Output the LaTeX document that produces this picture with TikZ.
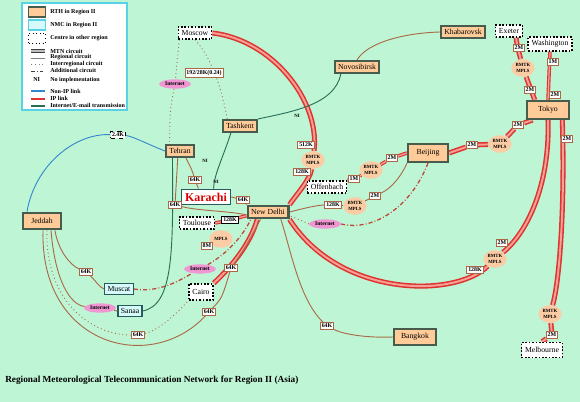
\documentclass[tikz,border=0pt]{standalone}
\usepackage{fontspec}
\setmainfont{Liberation Serif}
\usepackage{xcolor}
\definecolor{bgmint}{RGB}{190,245,213}
\definecolor{rthfill}{RGB}{255,204,153}
\definecolor{rthline}{RGB}{72,92,78}
\definecolor{nmcfill}{RGB}{214,250,250}
\definecolor{nmcline}{RGB}{40,90,90}
\definecolor{regbrown}{RGB}{170,105,70}
\definecolor{mtnred}{RGB}{222,52,48}
\definecolor{mtnpink}{RGB}{246,160,150}
\definecolor{addred}{RGB}{190,70,50}
\definecolor{netgreen}{RGB}{40,110,85}
\definecolor{nonipblue}{RGB}{50,135,205}
\definecolor{netpink}{RGB}{240,150,210}
\definecolor{cloudfill}{RGB}{252,205,165}
\definecolor{legline}{RGB}{90,210,230}
\usetikzlibrary{arrows.meta,positioning,shapes.geometric,calc,backgrounds}
\tikzset{
  rthbox/.style={draw=rthline, line width=1.4pt, fill=rthfill, inner sep=2.4pt,
    font=\fontsize{5.5}{6}\selectfont},
  nmcbox/.style={draw=nmcline, line width=0.8pt, fill=nmcfill, inner sep=2pt,
    font=\fontsize{5.5}{6}\selectfont},
  otherbox/.style={draw=black, line width=1.1pt, dash pattern=on 1.2pt off 1.2pt,
    fill=white, inner sep=2.4pt, font=\fontsize{5.5}{6}\selectfont},
  speed/.style={draw=regbrown, line width=0.6pt, fill=white, inner sep=1pt,
    font=\fontsize{4.2}{4.5}\selectfont\bfseries},
  cloudnode/.style={ellipse, fill=cloudfill, inner sep=0pt, align=center,
    minimum width=0.58cm, minimum height=0.44cm,
    font=\fontsize{3.4}{3.8}\selectfont\bfseries},
  netnode/.style={ellipse, fill=netpink, inner sep=1pt,
    font=\fontsize{4}{4.4}\selectfont\bfseries},
  nilabel/.style={font=\fontsize{3.4}{3.8}\selectfont\bfseries, inner sep=0.5pt},
  legtext/.style={anchor=west, inner sep=0pt, font=\fontsize{4.3}{4.6}\selectfont\bfseries},
  mtnline/.style={draw=mtnred, line width=1.1pt, double=mtnpink, double distance=1.4pt},
  ipline/.style={draw=mtnred, line width=0.8pt, double=mtnpink, double distance=0.9pt},
  regline/.style={draw=regbrown, line width=0.65pt},
  interline/.style={draw=regbrown, line width=0.65pt, dotted},
  addline/.style={draw=addred, line width=0.9pt, dash pattern=on 3pt off 1.5pt on 0.6pt off 1.5pt},
  netline/.style={draw=netgreen, line width=0.65pt},
  nonipline/.style={draw=nonipblue, line width=0.65pt},
}

\begin{document}
\begin{tikzpicture}[x=0.025cm, y=-0.025cm]
  \useasboundingbox (0,0) rectangle (580,402);

  % Legend
  \draw[fill=white, draw=legline, line width=1.2pt] (22,3) rectangle (127,110);
  \node[rthbox, line width=0.8pt, minimum width=0.42cm, minimum height=0.25cm] (kyrth) at (37,12) {};
  \node[nmcbox, draw=legline, minimum width=0.42cm, minimum height=0.25cm] (kynmc) at (37,25) {};
  \node[otherbox, line width=0.5pt, dotted, minimum width=0.42cm, minimum height=0.25cm] (kyoth) at (37,38) {};
  \draw[draw=darkgray, line width=0.7pt, double=lightgray, double distance=0.8pt] (31,51) -- (45,51);
  \draw[gray, line width=0.7pt] (31,58) -- (45,58);
  \draw[gray, line width=0.7pt, dotted] (31,64) -- (45,64);
  \draw[darkgray, line width=0.7pt, dash pattern=on 2.5pt off 1.5pt on 0.6pt off 1.5pt] (31,71) -- (45,71);
  \draw[nonipblue, line width=0.9pt] (31,91) -- (45,91);
  \draw[mtnred, line width=0.9pt] (31,99) -- (45,99);
  \draw[netgreen, line width=0.9pt] (31,106) -- (45,106);
  \node[legtext] (tyrth) at (50,12) {RTH in Region II};
  \node[legtext] (tynmc) at (50,25) {NMC in Region II};
  \node[legtext] (tyoth) at (50,38) {Centre in other region};
  \node[legtext] (tymtn) at (50,51) {MTN circuit};
  \node[legtext] (tyreg) at (50,57.5) {Regional circuit};
  \node[legtext] (tyint) at (50,64) {Interregional circuit};
  \node[legtext] (tyadd) at (50,70.5) {Additional circuit};
  \node[legtext] (tyni) at (33,80) {NI};
  \node[legtext] (tynoi) at (50,80) {No implementation};
  \node[legtext] (tynon) at (50,91) {Non-IP link};
  \node[legtext] (tyip) at (50,98.5) {IP link};
  \node[legtext] (tynet) at (50,105.5) {Internet/E-mail transmission};

  % Centres
  \node[otherbox] (moscow) at (195,33) {Moscow};
  \node[rthbox] (novosibirsk) at (357,67) {Novosibirsk};
  \node[rthbox] (khabarovsk) at (463,32) {Khabarovsk};
  \node[otherbox] (exeter) at (509,31) {Exeter};
  \node[otherbox] (washington) at (550,44) {Washington};
  \node[rthbox, minimum width=1.05cm, minimum height=0.45cm] (tokyo) at (548,110) {Tokyo};
  \node[rthbox] (tashkent) at (240,126) {Tashkent};
  \node[rthbox] (tehran) at (180,151) {Tehran};
  \node[draw=nmcline, line width=0.9pt, fill=white, text=red!85!black, inner sep=2.6pt,
    font=\fontsize{8.5}{9}\selectfont\bfseries] (karachi) at (206,197) {Karachi};
  \node[rthbox, line width=1.8pt] (newdelhi) at (268,212) {New Delhi};
  \node[rthbox, minimum width=1cm, minimum height=0.45cm] (beijing) at (428,153) {Beijing};
  \node[otherbox] (offenbach) at (327,187) {Offenbach};
  \node[otherbox] (toulouse) at (197,223) {Toulouse};
  \node[rthbox, minimum width=0.95cm, minimum height=0.42cm] (jeddah) at (42,221) {Jeddah};
  \node[nmcbox] (muscat) at (119,289) {Muscat};
  \node[nmcbox] (sanaa) at (130,311) {Sanaa};
  \node[otherbox, minimum height=0.4cm] (cairo) at (201,292) {Cairo};
  \node[rthbox, minimum width=1.05cm, minimum height=0.42cm] (bangkok) at (415,337) {Bangkok};
  \node[otherbox, minimum height=0.38cm] (melbourne) at (542,350) {Melbourne};

  % Link labels
  \node[speed] (lmos) at (204,73) {192/28K(0.24)};
  \node[netnode] (inetmos) at (175,84) {Internet};
  \node[speed, draw=black, dashed] (lteh) at (118,135) {2.4K};
  \node[nilabel] (nitas) at (297,116) {NI};
  \node[nilabel] (niteh) at (205,161) {NI};
  \node[nilabel] (nikar) at (216,182) {NI};
  \node[speed] (lteka) at (195,180) {64K};
  \node[speed] (ltend) at (175,205) {64K};
  \node[speed] (lkand) at (243,200) {64K};
  \node[speed, draw=black] (ltou) at (230,220) {128K};
  \node[cloudnode] (mpltou) at (221,239) {MPLS};
  \node[speed] (lcai) at (207,246) {8M};
  \node[speed] (lmosa) at (306,145) {512K};
  \node[cloudnode] (mplmos) at (313,160) {BMTK\\MPLS};
  \node[speed] (lmosb) at (302,172) {128K};
  \node[speed] (lbeoa) at (392,158) {2M};
  \node[cloudnode] (mplbeo) at (371,170) {BMTK\\MPLS};
  \node[speed] (lbeob) at (354,179) {1M};
  \node[speed] (lbnda) at (333,205) {128K};
  \node[cloudnode] (mplbnd) at (355,206) {BMTK\\MPLS};
  \node[speed] (lbndb) at (375,196) {2M};
  \node[netnode] (inetbei) at (325,224) {Internet};
  \node[speed] (lbtoa) at (472,145) {2M};
  \node[cloudnode] (mplbto) at (500,144) {BMTK\\MPLS};
  \node[speed] (lbtob) at (518,125) {2M};
  \node[speed] (lexa) at (519,48) {2M};
  \node[cloudnode] (mplex) at (523,68) {BMTK\\MPLS};
  \node[speed] (lexb) at (530,90) {2M};
  \node[speed] (lwaa) at (553,62) {1M};
  \node[speed] (lwab) at (555,95) {2M};
  \node[speed] (lmea) at (567,139) {2M};
  \node[cloudnode] (mplme) at (550,314) {BMTK\\MPLS};
  \node[speed] (lmeb) at (552,335) {2M};
  \node[speed] (ltnda) at (502,243) {2M};
  \node[cloudnode] (mpltnd) at (495,259) {BMTK\\MPLS};
  \node[speed] (ltndb) at (475,270) {128K};
  \node[speed] (lbkk) at (327,326) {64K};
  \node[speed] (ljmu) at (86,272) {64K};
  \node[netnode] (inetsan) at (100,308) {Internet};
  \node[speed] (ljca) at (138,335) {64K};
  \node[speed] (ljnda) at (209,312) {64K};
  \node[speed] (ljndb) at (231,268) {64K};
  \node[netnode] (inetmus) at (200,269) {Internet};

  % Title
  \node[anchor=west, inner sep=0pt, font=\fontsize{6.6}{7}\selectfont\bfseries] (title) at (5,380)
    {Regional Meteorological Telecommunication Network for Region II (Asia)};

  \begin{scope}[on background layer]
    \fill[bgmint] (0,0) rectangle (580,402);

    % MTN circuits
    \draw[mtnline] (moscow.east) .. controls (272,40) and (320,100) .. (mplmos)
      .. controls (310,180) and (296,195) .. (newdelhi.north east);
    \draw[mtnline] (tokyo.south) .. controls (550,180) and (530,230) .. (mpltnd)
      .. controls (455,298) and (340,298) .. (newdelhi.south east);
    \draw[mtnline] ($(tokyo.south)!0.65!(tokyo.south east)$) .. controls (565,200) and (560,280) .. (mplme)
      -- (lmeb) -- (melbourne.north);
    \draw[mtnline] (beijing.east) -- (lbtoa) -- (mplbto) -- (lbtob)
      -- ($(tokyo.south west)!0.3!(tokyo.south)$);
    \draw[mtnline] ($(exeter.south)!0.5!(exeter.south east)$) .. controls (517,45) .. (mplex)
      .. controls (528,82) .. ($(tokyo.north west)!0.2!(tokyo.north east)$);
    \draw[mtnline] ($(newdelhi.south west)!0.5!(newdelhi.south)$) .. controls (250,245) and (230,268)
      .. (cairo.north east);

    % IP links
    \draw[ipline] (washington.south) -- (tokyo.north);
    \draw[ipline] (beijing.west) -- (lbeoa) -- (mplbeo) -- (lbeob) -- (offenbach.north east);
    \draw[ipline] ($(newdelhi.west)!0.5!(newdelhi.south west)$) -- (ltou) -- (toulouse.east);

    % Regional circuits
    \draw[regline] (newdelhi.east) .. controls (305,208) and (318,205) .. (lbnda) -- (mplbnd)
      -- (lbndb) .. controls (392,188) and (402,175) .. (beijing.south west);
    \draw[regline] (novosibirsk.north) .. controls (368,42) and (405,33) .. (khabarovsk.west);
    \draw[regline] ($(tehran.south)!0.4!(tehran.south east)$) .. controls (192,170) .. (lteka)
      -- ($(karachi.north west)!0.7!(karachi.north)$);
    \draw[regline] ($(tehran.south)!0.15!(tehran.south west)$) -- (ltend)
      .. controls (200,211) and (230,211) .. ($(newdelhi.west)!0.4!(newdelhi.south west)$);
    \draw[regline] (karachi.east) -- (lkand) -- (newdelhi.north west);
    \draw[regline] ($(jeddah.south)!0.65!(jeddah.south east)$) .. controls (58,250) and (70,265) .. (ljmu)
      .. controls (95,280) and (100,288) .. (muscat.west);
    \draw[regline] ($(jeddah.south)!0.45!(jeddah.south east)$) .. controls (55,280) and (70,305) .. (inetsan)
      -- (sanaa.west);
    \draw[regline] ($(jeddah.south)!0.05!(jeddah.south east)$) .. controls (40,345) and (150,375) .. (ljnda)
      .. controls (222,298) .. (ljndb) .. controls (245,248) .. ($(newdelhi.south west)!0.65!(newdelhi.south)$);
    \draw[regline] ($(newdelhi.south)!0.6!(newdelhi.south east)$) .. controls (292,255) and (300,300) .. (lbkk)
      .. controls (345,335) and (370,338) .. (bangkok.west);
    \draw[regline] (mpltou) -- (lcai);

    % Interregional circuits
    \draw[interline] ($(moscow.south west)!0.1!(moscow.south)$) .. controls (177,60) .. (inetmos)
      .. controls (170,110) .. ($(tehran.north west)!0.3!(tehran.north)$);
    \draw[interline] (moscow.south) .. controls (212,58) and (222,90)
      .. ($(tashkent.north west)!0.3!(tashkent.north)$);
    \draw[interline] ($(jeddah.south)!0.25!(jeddah.south east)$) .. controls (45,300) and (90,335) .. (ljca)
      .. controls (160,330) and (178,312) .. (cairo.south west);
    \draw[interline] (inetbei.west) .. controls (305,222) .. ($(newdelhi.east)!0.5!(newdelhi.south east)$);

    % Additional circuits
    \draw[addline] (beijing.south) .. controls (412,205) and (375,232) .. (inetbei.east);
    \draw[addline] (muscat.east) .. controls (160,293) and (180,280) .. (inetmus)
      .. controls (225,255) and (242,238) .. ($(newdelhi.south west)!0.2!(newdelhi.south)$);

    % Internet and non-IP links
    \draw[netline] (tashkent.north east) .. controls (290,112) and (335,105)
      .. ($(novosibirsk.south west)!0.3!(novosibirsk.south)$);
    \draw[netline] ($(tashkent.south west)!0.5!(tashkent.south)$) .. controls (222,160) and (214,175)
      .. ($(karachi.north)!0.3!(karachi.north east)$);
    \draw[netline] ($(tehran.south west)!0.5!(tehran.south)$) .. controls (173,250) and (174,305) .. (sanaa.east);
    \draw[nonipline] (tehran.west) .. controls (145,143) and (132,136) .. (lteh)
      .. controls (75,133) and (35,165) .. ($(jeddah.north west)!0.25!(jeddah.north)$);
  \end{scope}
\end{tikzpicture}
\end{document}
